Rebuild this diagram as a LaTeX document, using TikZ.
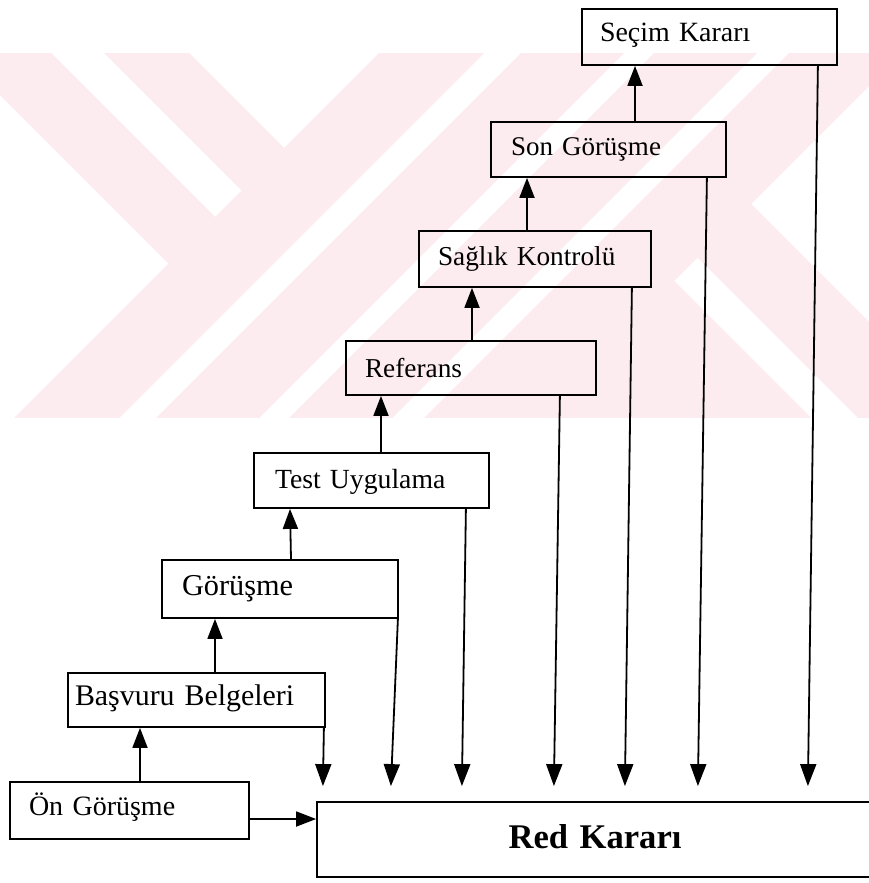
\documentclass[tikz,border=0pt]{standalone}
\usepackage{fontspec}
\setmainfont{Liberation Serif}
\usetikzlibrary{arrows.meta}

\definecolor{wmpink}{RGB}{252,235,239}
\newcommand{\nodefont}[1]{\fontsize{#1}{#1}\selectfont}

\tikzset{
  stage/.style={draw, line width=1.8pt, rectangle, inner ysep=0pt,
    align=left, text depth=0pt},
  uparrow/.style={-{Triangle[length=20pt,width=15pt]}, line width=1.8pt},
  downarrow/.style={-{Triangle[length=22pt,width=16pt]}, line width=1.8pt},
  wm/.style={fill=wmpink, draw=none}
}

\begin{document}
\begin{tikzpicture}[x=1pt, y=-1pt]
\useasboundingbox (0,0) rectangle (869,883);
\fill[white] (0,0) rectangle (869,883);

% faint striped emblem in the background
\begin{scope}
  \clip (0,54) rectangle (869,417);
  % left chevron and the stripe above it
  \fill[wm] (-100,-98) -- (215,217) -- (168.5,263.5) -- (-100,-5) -- cycle;
  \fill[wm] (1,-50) -- (241.5,190.5) -- (284,148) -- (86,-50) -- cycle;
  % rising stripes
  \foreach \a/\b in {432/537, 574/677, 707/810, 842/955}
    \fill[wm] (\a+100,-100) -- (\b+100,-100) -- (\b-700,700) -- (\a-700,700) -- cycle;
  % right-hand stripes
  \fill[wm] (751,204) -- (1147,600) -- (1040,600) -- (697.5,257.5) -- cycle;
  \fill[wm] (674,281) -- (993,600) -- (355,600) -- cycle;
\end{scope}

% stages of the selection process
\node[stage, minimum height=56pt, text width=219pt, inner xsep=18pt, text height=10pt,
  font=\nodefont{27.9}] (secim) at (709.5,37) {Seçim Kararı};
\node[stage, minimum height=55pt, text width=195pt, inner xsep=20pt, text height=11pt,
  font=\nodefont{27}] (son) at (608.5,149.5) {Son Görüşme};
\node[stage, minimum height=56pt, text width=194pt, inner xsep=19pt, text height=12pt,
  font=\nodefont{27.3}] (saglik) at (535,259) {Sağlık Kontrolü};
\node[stage, minimum height=54pt, text width=212pt, inner xsep=19pt, text height=18pt,
  font=\nodefont{27.3}] (referans) at (471,368) {Referans};
\node[stage, minimum height=55pt, text width=193pt, inner xsep=21pt, text height=15pt,
  font=\nodefont{27.7}] (test) at (371.5,480.5) {Test Uygulama};
\node[stage, minimum height=58pt, text width=196pt, inner xsep=20pt, text height=12pt,
  font=\nodefont{30.3}] (gorusme) at (280,589) {Görüşme};
\node[stage, minimum height=54pt, text width=243pt, inner xsep=7pt, text height=10pt,
  font=\nodefont{29.9}] (basvuru) at (196.5,700) {Başvuru Belgeleri};
\node[stage, minimum height=57pt, text width=201pt, inner xsep=19pt, text height=9pt,
  font=\nodefont{28}] (on) at (129.5,810.5) {Ön Görüşme};
\node[stage, minimum height=75pt, text width=556pt, inner xsep=0pt, align=center,
  text height=17pt, font=\nodefont{34.6}\bfseries] (red) at (595,839.5) {Red Kararı};

% upward steps
\draw[uparrow] ([xshift=10.5pt]on.north) -- ([xshift=10.5pt]on.north |- basvuru.south);
\draw[uparrow] ([xshift=18.5pt]basvuru.north) -- ([xshift=18.5pt]basvuru.north |- gorusme.south);
\draw[uparrow] ([xshift=11pt]gorusme.north) -- ([xshift=10pt]gorusme.north |- test.south);
\draw[uparrow] ([xshift=9.5pt]test.north) -- ([xshift=9.5pt]test.north |- referans.south);
\draw[uparrow] ([xshift=1pt]referans.north) -- ([xshift=1pt]referans.north |- saglik.south);
\draw[uparrow] ([xshift=-8pt]saglik.north) -- ([xshift=-8pt]saglik.north |- son.south);
\draw[uparrow] ([xshift=26.5pt]son.north) -- ([xshift=26.5pt]son.north |- secim.south);

% rejection paths
\draw[downarrow] ([xshift=-2pt]basvuru.south east) -- ([xshift=-3pt,yshift=15pt]basvuru.south east |- red.north);
\draw[downarrow] ([xshift=-1pt]gorusme.south east) -- ([xshift=-8pt,yshift=15pt]gorusme.south east |- red.north);
\draw[downarrow] ([xshift=-24pt]test.south east) -- ([xshift=-28pt,yshift=15pt]test.south east |- red.north);
\draw[downarrow] ([xshift=-37pt]referans.south east) -- ([xshift=-43pt,yshift=15pt]referans.south east |- red.north);
\draw[downarrow] ([xshift=-20pt]saglik.south east) -- ([xshift=-27pt,yshift=15pt]saglik.south east |- red.north);
\draw[downarrow] ([xshift=-20pt]son.south east) -- ([xshift=-29pt,yshift=15pt]son.south east |- red.north);
\draw[downarrow] ([xshift=-20pt]secim.south east) -- ([xshift=-30pt,yshift=15pt]secim.south east |- red.north);

% direct rejection after the first interview
\draw[uparrow] ([yshift=-8.5pt]on.east) -- ([yshift=-8.5pt]on.east -| red.west);
\end{tikzpicture}
\end{document}
